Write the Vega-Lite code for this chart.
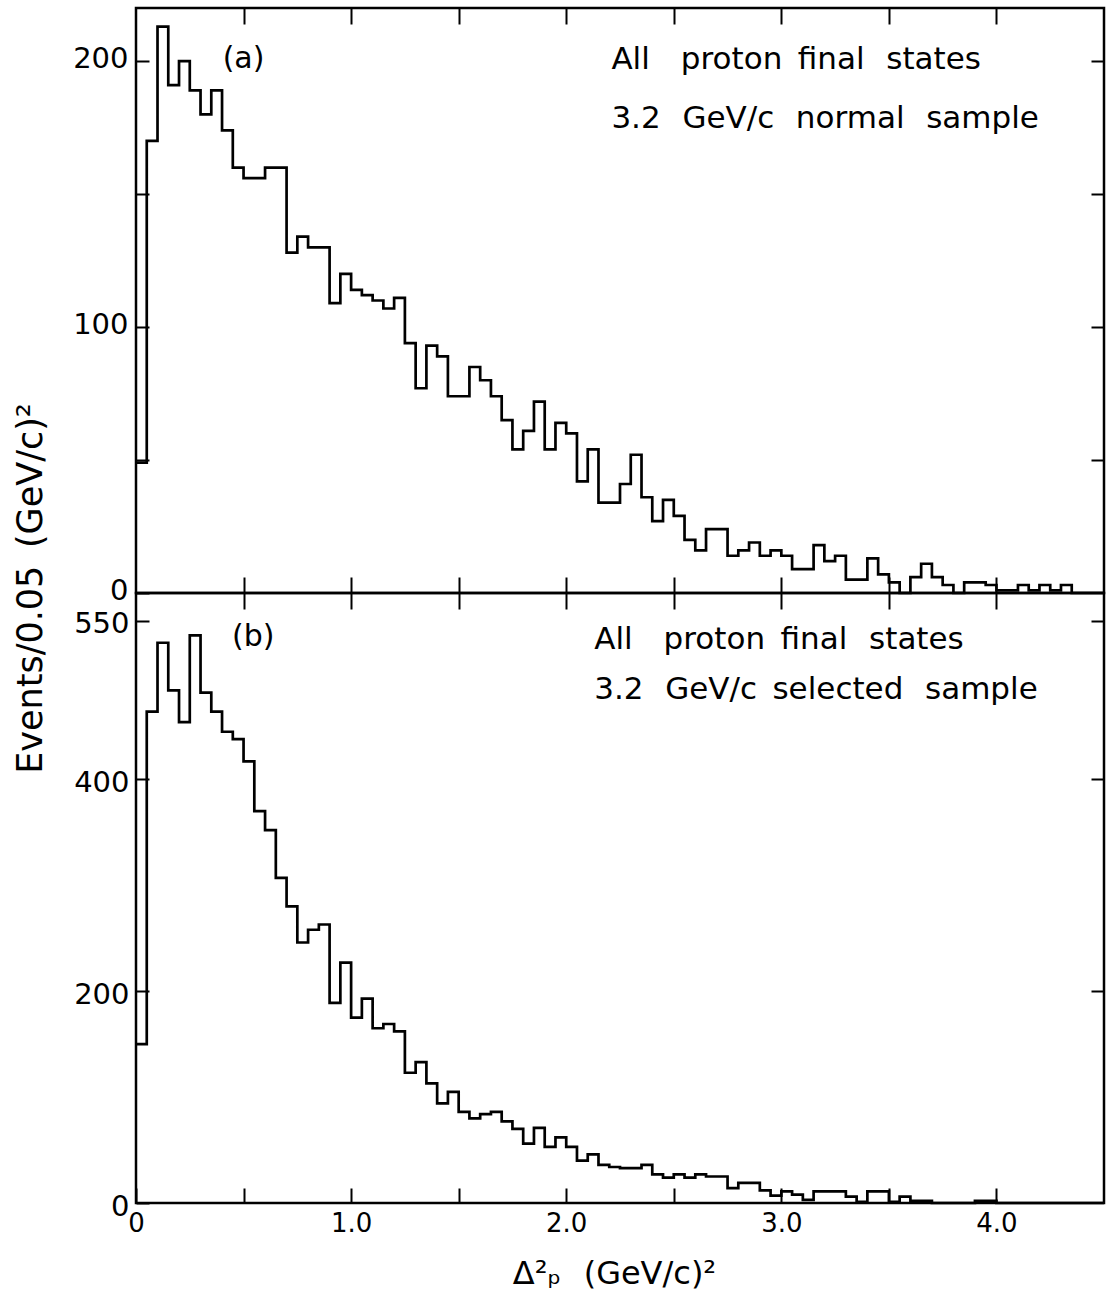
{
  "$schema": "https://vega.github.io/schema/vega-lite/v6.json",
  "background": "white",
  "padding": {"left": 11, "top": 5, "right": 0, "bottom": 0},
  "spacing": 0,
  "bounds": "flush",
  "config": {
    "font": "DejaVu Sans",
    "view": {"stroke": "black", "strokeWidth": 2.5},
    "axis": {
      "domain": false,
      "grid": false,
      "labelFont": "DejaVu Sans",
      "titleFont": "DejaVu Sans",
      "labelColor": "black",
      "titleColor": "black",
      "titleFontWeight": "normal",
      "tickColor": "black",
      "tickWidth": 2
    },
    "text": {"font": "DejaVu Sans", "color": "black"}
  },
  "datasets": {
    "normal": [
      {"lo": 0.00, "hi": 0.05, "n": 49}, {"lo": 0.05, "hi": 0.10, "n": 170}, {"lo": 0.10, "hi": 0.15, "n": 213},
      {"lo": 0.15, "hi": 0.20, "n": 191}, {"lo": 0.20, "hi": 0.25, "n": 200}, {"lo": 0.25, "hi": 0.30, "n": 189},
      {"lo": 0.30, "hi": 0.35, "n": 180}, {"lo": 0.35, "hi": 0.40, "n": 189}, {"lo": 0.40, "hi": 0.45, "n": 174},
      {"lo": 0.45, "hi": 0.50, "n": 160}, {"lo": 0.50, "hi": 0.55, "n": 156}, {"lo": 0.55, "hi": 0.60, "n": 156},
      {"lo": 0.60, "hi": 0.65, "n": 160}, {"lo": 0.65, "hi": 0.70, "n": 160}, {"lo": 0.70, "hi": 0.75, "n": 128},
      {"lo": 0.75, "hi": 0.80, "n": 134}, {"lo": 0.80, "hi": 0.85, "n": 130}, {"lo": 0.85, "hi": 0.90, "n": 130},
      {"lo": 0.90, "hi": 0.95, "n": 109}, {"lo": 0.95, "hi": 1.00, "n": 120}, {"lo": 1.00, "hi": 1.05, "n": 114},
      {"lo": 1.05, "hi": 1.10, "n": 112}, {"lo": 1.10, "hi": 1.15, "n": 110}, {"lo": 1.15, "hi": 1.20, "n": 107},
      {"lo": 1.20, "hi": 1.25, "n": 111}, {"lo": 1.25, "hi": 1.30, "n": 94}, {"lo": 1.30, "hi": 1.35, "n": 77},
      {"lo": 1.35, "hi": 1.40, "n": 93}, {"lo": 1.40, "hi": 1.45, "n": 89}, {"lo": 1.45, "hi": 1.50, "n": 74},
      {"lo": 1.50, "hi": 1.55, "n": 74}, {"lo": 1.55, "hi": 1.60, "n": 85}, {"lo": 1.60, "hi": 1.65, "n": 80},
      {"lo": 1.65, "hi": 1.70, "n": 74}, {"lo": 1.70, "hi": 1.75, "n": 65}, {"lo": 1.75, "hi": 1.80, "n": 54},
      {"lo": 1.80, "hi": 1.85, "n": 61}, {"lo": 1.85, "hi": 1.90, "n": 72}, {"lo": 1.90, "hi": 1.95, "n": 54},
      {"lo": 1.95, "hi": 2.00, "n": 64}, {"lo": 2.00, "hi": 2.05, "n": 60}, {"lo": 2.05, "hi": 2.10, "n": 42},
      {"lo": 2.10, "hi": 2.15, "n": 54}, {"lo": 2.15, "hi": 2.20, "n": 34}, {"lo": 2.20, "hi": 2.25, "n": 34},
      {"lo": 2.25, "hi": 2.30, "n": 41}, {"lo": 2.30, "hi": 2.35, "n": 52}, {"lo": 2.35, "hi": 2.40, "n": 36},
      {"lo": 2.40, "hi": 2.45, "n": 27}, {"lo": 2.45, "hi": 2.50, "n": 35}, {"lo": 2.50, "hi": 2.55, "n": 29},
      {"lo": 2.55, "hi": 2.60, "n": 20}, {"lo": 2.60, "hi": 2.65, "n": 16}, {"lo": 2.65, "hi": 2.70, "n": 24},
      {"lo": 2.70, "hi": 2.75, "n": 24}, {"lo": 2.75, "hi": 2.80, "n": 14}, {"lo": 2.80, "hi": 2.85, "n": 16},
      {"lo": 2.85, "hi": 2.90, "n": 19}, {"lo": 2.90, "hi": 2.95, "n": 14}, {"lo": 2.95, "hi": 3.00, "n": 16},
      {"lo": 3.00, "hi": 3.05, "n": 14}, {"lo": 3.05, "hi": 3.10, "n": 9}, {"lo": 3.10, "hi": 3.15, "n": 9},
      {"lo": 3.15, "hi": 3.20, "n": 18}, {"lo": 3.20, "hi": 3.25, "n": 12}, {"lo": 3.25, "hi": 3.30, "n": 14},
      {"lo": 3.30, "hi": 3.35, "n": 5}, {"lo": 3.35, "hi": 3.40, "n": 5}, {"lo": 3.40, "hi": 3.45, "n": 13},
      {"lo": 3.45, "hi": 3.50, "n": 7}, {"lo": 3.50, "hi": 3.55, "n": 4}, {"lo": 3.55, "hi": 3.60, "n": 0},
      {"lo": 3.60, "hi": 3.65, "n": 6}, {"lo": 3.65, "hi": 3.70, "n": 11}, {"lo": 3.70, "hi": 3.75, "n": 6},
      {"lo": 3.75, "hi": 3.80, "n": 3}, {"lo": 3.80, "hi": 3.85, "n": 0}, {"lo": 3.85, "hi": 3.90, "n": 4},
      {"lo": 3.90, "hi": 3.95, "n": 4}, {"lo": 3.95, "hi": 4.00, "n": 3}, {"lo": 4.00, "hi": 4.05, "n": 1},
      {"lo": 4.05, "hi": 4.10, "n": 1}, {"lo": 4.10, "hi": 4.15, "n": 3}, {"lo": 4.15, "hi": 4.20, "n": 1},
      {"lo": 4.20, "hi": 4.25, "n": 3}, {"lo": 4.25, "hi": 4.30, "n": 1}, {"lo": 4.30, "hi": 4.35, "n": 3},
      {"lo": 4.35, "hi": 4.40, "n": 0}, {"lo": 4.40, "hi": 4.45, "n": 0}, {"lo": 4.45, "hi": 4.50, "n": 0}
    ],
    "selected": [
      {"lo": 0.00, "hi": 0.05, "n": 150}, {"lo": 0.05, "hi": 0.10, "n": 464}, {"lo": 0.10, "hi": 0.15, "n": 529},
      {"lo": 0.15, "hi": 0.20, "n": 484}, {"lo": 0.20, "hi": 0.25, "n": 454}, {"lo": 0.25, "hi": 0.30, "n": 536},
      {"lo": 0.30, "hi": 0.35, "n": 482}, {"lo": 0.35, "hi": 0.40, "n": 464}, {"lo": 0.40, "hi": 0.45, "n": 445},
      {"lo": 0.45, "hi": 0.50, "n": 438}, {"lo": 0.50, "hi": 0.55, "n": 417}, {"lo": 0.55, "hi": 0.60, "n": 370},
      {"lo": 0.60, "hi": 0.65, "n": 352}, {"lo": 0.65, "hi": 0.70, "n": 307}, {"lo": 0.70, "hi": 0.75, "n": 280},
      {"lo": 0.75, "hi": 0.80, "n": 246}, {"lo": 0.80, "hi": 0.85, "n": 258}, {"lo": 0.85, "hi": 0.90, "n": 263},
      {"lo": 0.90, "hi": 0.95, "n": 189}, {"lo": 0.95, "hi": 1.00, "n": 227}, {"lo": 1.00, "hi": 1.05, "n": 175},
      {"lo": 1.05, "hi": 1.10, "n": 193}, {"lo": 1.10, "hi": 1.15, "n": 165}, {"lo": 1.15, "hi": 1.20, "n": 169},
      {"lo": 1.20, "hi": 1.25, "n": 162}, {"lo": 1.25, "hi": 1.30, "n": 123}, {"lo": 1.30, "hi": 1.35, "n": 133},
      {"lo": 1.35, "hi": 1.40, "n": 113}, {"lo": 1.40, "hi": 1.45, "n": 94}, {"lo": 1.45, "hi": 1.50, "n": 105},
      {"lo": 1.50, "hi": 1.55, "n": 86}, {"lo": 1.55, "hi": 1.60, "n": 80}, {"lo": 1.60, "hi": 1.65, "n": 84},
      {"lo": 1.65, "hi": 1.70, "n": 86}, {"lo": 1.70, "hi": 1.75, "n": 77}, {"lo": 1.75, "hi": 1.80, "n": 70},
      {"lo": 1.80, "hi": 1.85, "n": 56}, {"lo": 1.85, "hi": 1.90, "n": 71}, {"lo": 1.90, "hi": 1.95, "n": 53},
      {"lo": 1.95, "hi": 2.00, "n": 62}, {"lo": 2.00, "hi": 2.05, "n": 53}, {"lo": 2.05, "hi": 2.10, "n": 40},
      {"lo": 2.10, "hi": 2.15, "n": 46}, {"lo": 2.15, "hi": 2.20, "n": 36}, {"lo": 2.20, "hi": 2.25, "n": 34},
      {"lo": 2.25, "hi": 2.30, "n": 33}, {"lo": 2.30, "hi": 2.35, "n": 33}, {"lo": 2.35, "hi": 2.40, "n": 36},
      {"lo": 2.40, "hi": 2.45, "n": 27}, {"lo": 2.45, "hi": 2.50, "n": 24}, {"lo": 2.50, "hi": 2.55, "n": 27},
      {"lo": 2.55, "hi": 2.60, "n": 24}, {"lo": 2.60, "hi": 2.65, "n": 27}, {"lo": 2.65, "hi": 2.70, "n": 25},
      {"lo": 2.70, "hi": 2.75, "n": 25}, {"lo": 2.75, "hi": 2.80, "n": 14}, {"lo": 2.80, "hi": 2.85, "n": 19},
      {"lo": 2.85, "hi": 2.90, "n": 19}, {"lo": 2.90, "hi": 2.95, "n": 12}, {"lo": 2.95, "hi": 3.00, "n": 7},
      {"lo": 3.00, "hi": 3.05, "n": 11}, {"lo": 3.05, "hi": 3.10, "n": 8}, {"lo": 3.10, "hi": 3.15, "n": 3},
      {"lo": 3.15, "hi": 3.20, "n": 11}, {"lo": 3.20, "hi": 3.25, "n": 11}, {"lo": 3.25, "hi": 3.30, "n": 11},
      {"lo": 3.30, "hi": 3.35, "n": 6}, {"lo": 3.35, "hi": 3.40, "n": 1}, {"lo": 3.40, "hi": 3.45, "n": 11},
      {"lo": 3.45, "hi": 3.50, "n": 11}, {"lo": 3.50, "hi": 3.55, "n": 1}, {"lo": 3.55, "hi": 3.60, "n": 6},
      {"lo": 3.60, "hi": 3.65, "n": 2}, {"lo": 3.65, "hi": 3.70, "n": 2}, {"lo": 3.70, "hi": 3.75, "n": 0},
      {"lo": 3.75, "hi": 3.80, "n": 0}, {"lo": 3.80, "hi": 3.85, "n": 0}, {"lo": 3.85, "hi": 3.90, "n": 0},
      {"lo": 3.90, "hi": 3.95, "n": 2}, {"lo": 3.95, "hi": 4.00, "n": 2}, {"lo": 4.00, "hi": 4.05, "n": 0},
      {"lo": 4.05, "hi": 4.10, "n": 0}, {"lo": 4.10, "hi": 4.15, "n": 0}, {"lo": 4.15, "hi": 4.20, "n": 0},
      {"lo": 4.20, "hi": 4.25, "n": 0}, {"lo": 4.25, "hi": 4.30, "n": 0}, {"lo": 4.30, "hi": 4.35, "n": 0},
      {"lo": 4.35, "hi": 4.40, "n": 0}, {"lo": 4.40, "hi": 4.45, "n": 0}, {"lo": 4.45, "hi": 4.50, "n": 0}
    ]
  },
  "vconcat": [
    {
      "width": 968,
      "height": 585,
      "layer": [
        {
          "data": {"name": "normal"},
          "transform": [{"fold": ["lo", "hi"], "as": ["edge", "pos"]}],
          "mark": {"type": "line", "color": "black", "strokeWidth": 2.7, "strokeJoin": "miter"},
          "encoding": {
            "x": {
              "field": "pos", "type": "quantitative",
              "scale": {"domain": [0, 4.5], "nice": false, "zero": false},
              "axis": {"orient": "bottom", "values": [0.5, 1, 1.5, 2, 2.5, 3, 3.5, 4], "labels": false, "tickSize": -16, "title": null}
            },
            "y": {
              "field": "n", "type": "quantitative",
              "scale": {"domain": [0, 220], "nice": false},
              "axis": {
                "orient": "left", "values": [0, 50, 100, 150, 200], "tickSize": -13,
                "labelExpr": "datum.value % 100 === 0 ? datum.label : ''",
                "labelFontSize": 29, "labelPadding": 21, "labelBaseline": "middle", "labelOffset": -3, "title": null
              }
            },
            "order": [{"field": "lo", "type": "quantitative"}, {"field": "pos", "type": "quantitative"}]
          }
        },
        {
          "data": {"name": "normal"},
          "transform": [{"fold": ["lo", "hi"], "as": ["edge", "pos"]}],
          "mark": {"type": "line", "strokeOpacity": 0},
          "encoding": {
            "x": {
              "field": "pos", "type": "quantitative",
              "axis": {"orient": "top", "values": [0.5, 1, 1.5, 2, 2.5, 3, 3.5, 4], "labels": false, "tickSize": -16, "title": null}
            },
            "y": {
              "field": "n", "type": "quantitative",
              "axis": {"orient": "right", "values": [50, 100, 150, 200], "labels": false, "tickSize": -13, "title": null}
            },
            "order": [{"field": "lo", "type": "quantitative"}, {"field": "pos", "type": "quantitative"}]
          }
        },
        {
          "data": {"values": [{"t": "(a)"}]},
          "mark": {"type": "text", "fontSize": 30, "align": "center", "baseline": "middle"},
          "encoding": {
            "x": {"datum": 0.5, "type": "quantitative", "axis": null},
            "y": {"datum": 201, "type": "quantitative", "axis": null},
            "text": {"field": "t"}
          }
        },
        {
          "data": {"values": [{"t": "All\u2003proton\u2002final\u2002\u2009states"}]},
          "mark": {"type": "text", "fontSize": 31, "align": "left", "baseline": "alphabetic"},
          "encoding": {
            "x": {"datum": 2.21, "type": "quantitative", "axis": null},
            "y": {"datum": 197, "type": "quantitative", "axis": null},
            "text": {"field": "t"}
          }
        },
        {
          "data": {"values": [{"t": "3.2\u2002\u2009GeV/c\u2002\u2009normal\u2002\u2009sample"}]},
          "mark": {"type": "text", "fontSize": 31, "align": "left", "baseline": "alphabetic"},
          "encoding": {
            "x": {"datum": 2.21, "type": "quantitative", "axis": null},
            "y": {"datum": 175, "type": "quantitative", "axis": null},
            "text": {"field": "t"}
          }
        }
      ],
      "resolve": {"axis": {"x": "independent", "y": "independent"}}
    },
    {
      "width": 968,
      "height": 610,
      "layer": [
        {
          "data": {"name": "selected"},
          "transform": [{"fold": ["lo", "hi"], "as": ["edge", "pos"]}],
          "mark": {"type": "line", "color": "black", "strokeWidth": 2.7, "strokeJoin": "miter"},
          "encoding": {
            "x": {
              "field": "pos", "type": "quantitative",
              "scale": {"domain": [0, 4.5], "nice": false, "zero": false},
              "axis": {
                "orient": "bottom", "values": [0, 0.5, 1, 1.5, 2, 2.5, 3, 3.5, 4], "tickSize": -15,
                "labelExpr": "datum.value === 0 ? '0' : (datum.value % 1 === 0 ? format(datum.value, '.1f') : '')",
                "labelFontSize": 26, "labelPadding": 22, "labelFlush": false,
                "title": "Δ²ₚ\u2002\u2009(GeV/c)²", "titleFontSize": 32, "titlePadding": 22, "titleX": 478
              }
            },
            "y": {
              "field": "n", "type": "quantitative",
              "scale": {"domain": [0, 576], "nice": false},
              "axis": {
                "orient": "left", "values": [0, 200, 400, 550], "tickSize": -13,
                "labelFontSize": 29, "labelPadding": 20, "labelBaseline": "middle", "labelOffset": 3,
                "title": "Events/0.05\u2002(GeV/c)²", "titleFontSize": 35,
                "titleX": -106, "titleY": -5, "titleAngle": -90, "titleAlign": "center", "titleBaseline": "middle"
              }
            },
            "order": [{"field": "lo", "type": "quantitative"}, {"field": "pos", "type": "quantitative"}]
          }
        },
        {
          "data": {"name": "selected"},
          "transform": [{"fold": ["lo", "hi"], "as": ["edge", "pos"]}],
          "mark": {"type": "line", "strokeOpacity": 0},
          "encoding": {
            "x": {
              "field": "pos", "type": "quantitative",
              "axis": {"orient": "top", "values": [0.5, 1, 1.5, 2, 2.5, 3, 3.5, 4], "labels": false, "tickSize": -16, "title": null}
            },
            "y": {
              "field": "n", "type": "quantitative",
              "axis": {"orient": "right", "values": [200, 400, 550], "labels": false, "tickSize": -13, "title": null}
            },
            "order": [{"field": "lo", "type": "quantitative"}, {"field": "pos", "type": "quantitative"}]
          }
        },
        {
          "data": {"values": [{"t": "(b)"}]},
          "mark": {"type": "text", "fontSize": 30, "align": "center", "baseline": "middle"},
          "encoding": {
            "x": {"datum": 0.545, "type": "quantitative", "axis": null},
            "y": {"datum": 534, "type": "quantitative", "axis": null},
            "text": {"field": "t"}
          }
        },
        {
          "data": {"values": [{"t": "All\u2003proton\u2002final\u2002\u2009states"}]},
          "mark": {"type": "text", "fontSize": 31, "align": "left", "baseline": "alphabetic"},
          "encoding": {
            "x": {"datum": 2.13, "type": "quantitative", "axis": null},
            "y": {"datum": 523, "type": "quantitative", "axis": null},
            "text": {"field": "t"}
          }
        },
        {
          "data": {"values": [{"t": "3.2\u2002\u2009GeV/c\u2002selected\u2002\u2009sample"}]},
          "mark": {"type": "text", "fontSize": 31, "align": "left", "baseline": "alphabetic"},
          "encoding": {
            "x": {"datum": 2.13, "type": "quantitative", "axis": null},
            "y": {"datum": 476, "type": "quantitative", "axis": null},
            "text": {"field": "t"}
          }
        }
      ],
      "resolve": {"axis": {"x": "independent", "y": "independent"}}
    }
  ]
}
